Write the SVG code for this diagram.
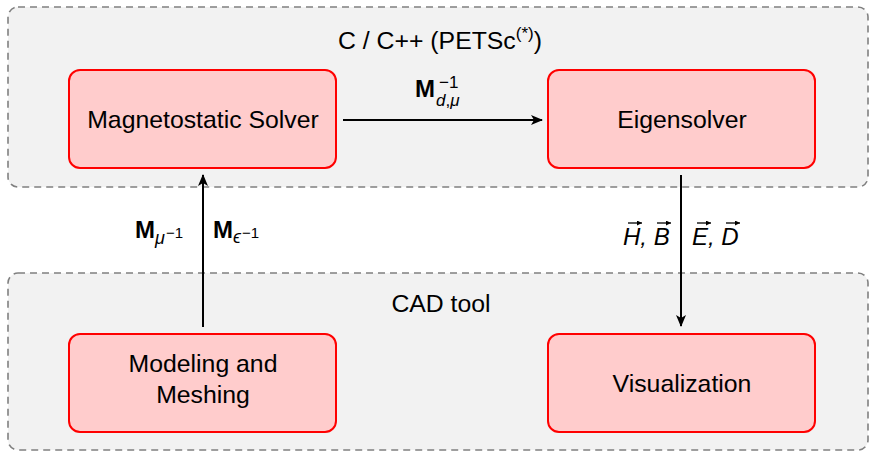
<svg xmlns="http://www.w3.org/2000/svg" width="874" height="453" viewBox="0 0 874 453">
  <style>
    .group { fill: #f2f2f2; stroke: #808080; stroke-width: 1.6; stroke-dasharray: 7 5; }
    .node { fill: #ffcccc; stroke: #ff0000; stroke-width: 2; }
    .lbl { font-family: "Liberation Sans", Arial, sans-serif; font-size: 24.8px; fill: #000; text-anchor: middle; }
    .math { font-family: "Liberation Sans", Arial, sans-serif; font-size: 24px; fill: #000; }
    .bold { font-weight: bold; }
    .it { font-style: italic; }
    .edge { stroke: #000; stroke-width: 2; fill: none; }
    .vec { stroke: #000; stroke-width: 1.3; fill: none; }
  </style>
  <defs>
    <marker id="tip" viewBox="0 0 12 10" refX="11" refY="5" markerWidth="12" markerHeight="10" markerUnits="userSpaceOnUse" orient="auto">
      <path d="M0,0 L12,5 L0,10 L3,5 Z" fill="#000"/>
    </marker>
    <marker id="vtip" viewBox="0 0 6 6" refX="6" refY="3" markerWidth="5" markerHeight="5" markerUnits="userSpaceOnUse" orient="auto">
      <path d="M0,0 L6,3 L0,6 Z" fill="#000"/>
    </marker>
  </defs>

  <!-- software layers -->
  <g id="layer-petsc">
    <rect class="group" x="8" y="7" width="860" height="180" rx="10"/>
    <text class="lbl" x="440" y="49">C / C++ (PETSc<tspan font-size="17" dy="-10">(*)</tspan><tspan dy="10">)</tspan></text>
  </g>
  <g id="layer-cad">
    <rect class="group" x="8" y="273" width="860" height="177" rx="10"/>
    <text class="lbl" x="441" y="312">CAD tool</text>
  </g>

  <!-- nodes -->
  <g id="magnetostatic-solver">
    <rect class="node" x="69" y="70" width="267" height="98" rx="11"/>
    <text class="lbl" x="203" y="128">Magnetostatic Solver</text>
  </g>
  <g id="eigensolver">
    <rect class="node" x="548" y="70" width="267" height="98" rx="11"/>
    <text class="lbl" x="682" y="128">Eigensolver</text>
  </g>
  <g id="modeling-meshing">
    <rect class="node" x="69" y="334" width="267" height="98" rx="11"/>
    <text class="lbl" x="203" y="372">Modeling and</text>
    <text class="lbl" x="203" y="403">Meshing</text>
  </g>
  <g id="visualization">
    <rect class="node" x="548" y="334" width="267" height="98" rx="11"/>
    <text class="lbl" x="682" y="392">Visualization</text>
  </g>

  <!-- connectors -->
  <g id="connectors">
    <line class="edge" x1="343" y1="120" x2="542" y2="120" marker-end="url(#tip)"/>
    <line class="edge" x1="203" y1="327" x2="203" y2="175" marker-end="url(#tip)"/>
    <line class="edge" x1="681" y1="175" x2="681" y2="326" marker-end="url(#tip)"/>

    <!-- M_{d,mu}^{-1} -->
    <text class="math" x="415" y="97"><tspan class="bold">M</tspan><tspan class="it" font-size="17" x="436" y="106">d</tspan><tspan font-size="17">,</tspan><tspan class="it" font-size="17">μ</tspan><tspan font-size="17" x="439" y="88">−1</tspan></text>

    <!-- M_{mu^{-1}} and M_{eps^{-1}} -->
    <text class="math" x="135" y="238"><tspan class="bold">M</tspan><tspan class="it" font-size="18" dy="6">μ</tspan><tspan font-size="15" dx="1" dy="-6">−1</tspan></text>
    <text class="math" x="213" y="238"><tspan class="bold">M</tspan><tspan class="it" font-size="18" dy="5">ϵ</tspan><tspan font-size="15" dx="1" dy="-5">−1</tspan></text>

    <!-- field vectors -->
    <text class="math it" x="623" y="245">H, B</text>
    <text class="math it" x="692" y="245">E, D</text>
    <line class="vec" x1="628" y1="223" x2="642" y2="223" marker-end="url(#vtip)"/>
    <line class="vec" x1="657" y1="223" x2="671" y2="223" marker-end="url(#vtip)"/>
    <line class="vec" x1="697" y1="223" x2="711" y2="223" marker-end="url(#vtip)"/>
    <line class="vec" x1="726" y1="223" x2="740" y2="223" marker-end="url(#vtip)"/>
  </g>
</svg>
